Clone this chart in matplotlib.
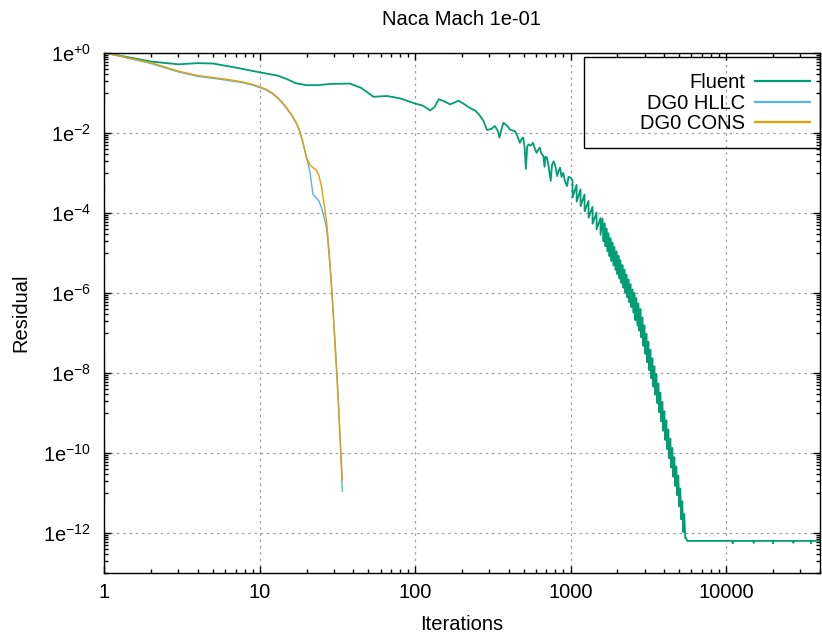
import numpy as np
import matplotlib
matplotlib.use('Agg')
import matplotlib.pyplot as plt
from matplotlib.patches import Rectangle
from matplotlib.ticker import FixedLocator, FixedFormatter, NullFormatter

plt.rcParams['font.family'] = ['Liberation Sans', 'DejaVu Sans']
plt.rcParams['mathtext.default'] = 'regular'

# ---------------- data ----------------
title = 'Naca Mach 1e-01'
x_label = 'Iterations'
y_label = 'Residual'
series_names = ['Fluent', 'DG0 HLLC', 'DG0 CONS']

x_tick_values = [1, 10, 100, 1000, 10000]
x_tick_labels = ['1', '10', '100', '1000', '10000']
y_tick_values = [1e0, 1e-2, 1e-4, 1e-6, 1e-8, 1e-10, 1e-12]
y_tick_labels = ['1e$^{+0}$', '1e$^{-2}$', '1e$^{-4}$', '1e$^{-6}$',
                 '1e$^{-8}$', '1e$^{-10}$', '1e$^{-12}$']

# Fluent residual (iteration, log10 residual)
fluent_iter = [1, 2, 3, 4, 5, 7, 10, 13, 15, 17, 20, 24, 28, 38, 45, 54, 66, 80,
               100, 112, 125, 133, 142, 155, 168, 190, 210, 225, 245, 262, 275,
               290, 310, 326, 340, 349, 360, 370, 390, 408, 438, 455, 472, 485,
               496, 506, 516, 526, 536, 555, 574, 590, 605, 620, 633, 650, 669,
               680, 690, 705, 720, 745, 760, 779, 800, 820, 838, 856, 875, 897,
               920, 950, 970, 1000,
               1030, 1032, 1093, 1095, 1159, 1161, 1230, 1232, 1305, 1307,
               1384, 1386, 1469, 1471, 1558, 1560,
               1605, 1629, 1653, 1678, 1702, 1727, 1754, 1780, 1806, 1833,
               1860, 1888, 1916, 1945, 1974, 2003, 2033, 2063, 2094, 2125,
               2157, 2189, 2221, 2254, 2288, 2322, 2357, 2392, 2427, 2463,
               2500, 2537, 2575, 2613, 2652, 2692, 2732, 2773, 2814, 2856,
               2898, 2941, 2985, 3030, 3075, 3121, 3167, 3214, 3262, 3311,
               3360, 3410, 3461, 3512, 3564, 3617, 3671, 3726, 3781, 3837,
               3895, 3953, 4012, 4072, 4132, 4194, 4256, 4319, 4384, 4449,
               4515, 4582, 4651, 4720, 4790, 4861, 4934, 5008, 5082, 5158,
               5234, 5312, 5391, 5471, 5553, 5620,
               11000, 11050, 11100, 15000, 15080, 15150, 20000, 20100, 20200,
               27000, 27150, 27300, 35000, 35200, 35400, 40000]
fluent_log10 = [0.0, -0.22, -0.29, -0.26, -0.27, -0.37, -0.49, -0.57, -0.66, -0.76,
                -0.81, -0.81, -0.78, -0.77, -0.88, -1.10, -1.08, -1.14,
                -1.27, -1.32, -1.44, -1.36, -1.16, -1.22, -1.29, -1.20, -1.30,
                -1.38, -1.45, -1.58, -1.70,
                -1.93, -1.90, -1.83, -1.95, -2.12, -1.90, -1.75, -1.82, -1.92,
                -1.96, -2.08, -2.25, -2.15,
                -2.12, -2.35, -2.90, -2.35, -2.29, -2.32, -2.25, -2.40, -2.50,
                -2.42, -2.37, -2.52, -2.58,
                -2.85, -2.60, -2.62, -2.80, -3.20, -2.80, -2.71, -2.85, -3.08,
                -2.95, -2.87, -3.10, -3.00,
                -3.20, -3.33, -3.10, -3.12,
                -3.19, -3.61, -3.30, -3.72, -3.41, -3.83, -3.54, -3.96,
                -3.70, -4.12, -3.85, -4.27, -3.99, -4.41, -4.13, -4.55,
                -4.14, -4.71, -4.26, -4.83, -4.39, -4.96, -4.51, -5.08,
                -4.63, -5.20, -4.74, -5.31, -4.85, -5.42, -4.96, -5.53,
                -5.07, -5.64, -5.18, -5.75, -5.30, -5.87, -5.42, -5.99,
                -5.54, -6.11, -5.66, -6.23, -5.78, -6.35, -5.91, -6.49,
                -6.00, -6.68, -6.13, -6.81, -6.26, -6.94, -6.40, -7.11,
                -6.61, -7.32, -6.81, -7.52, -7.02, -7.73, -7.22, -7.93,
                -7.42, -8.13, -7.63, -8.34, -7.83, -8.54, -8.03, -8.75,
                -8.26, -8.98, -8.49, -9.21, -8.72, -9.44, -8.95, -9.67,
                -9.18, -9.90, -9.41, -10.13, -9.64, -10.36, -9.87, -10.59,
                -10.10, -10.82, -10.33, -11.05, -10.56, -11.33, -10.88, -11.65,
                -11.20, -11.97, -11.52, -12.12, -12.12, -12.19,
                -12.19, -12.25, -12.19, -12.19, -12.24, -12.19, -12.19, -12.25,
                -12.19, -12.19, -12.24, -12.19, -12.19, -12.25, -12.19, -12.19]

# DG0 HLLC residual
hllc_iter = [1, 2, 3, 4, 5, 6, 7, 8, 9, 10, 11, 12, 13, 14, 15, 16, 17, 18, 19,
             20, 21, 22, 23, 24, 25, 26, 27, 28, 29, 30, 31, 32, 33, 34]
hllc_log10 = [0.0, -0.27, -0.48, -0.59, -0.64, -0.68, -0.72, -0.76, -0.81, -0.87,
              -0.93, -1.02, -1.13, -1.26, -1.41, -1.56, -1.73, -1.94, -2.27,
              -2.62, -2.95, -3.53, -3.62, -3.70, -3.88, -4.12, -4.41, -5.10,
              -5.85, -6.75, -7.65, -8.60, -9.75, -10.95]

# DG0 CONS residual
cons_iter = [1, 2, 3, 4, 5, 6, 7, 8, 9, 10, 11, 12, 13, 14, 15, 16, 17, 18, 19,
             20, 21, 22, 23, 24, 25, 26, 27, 28, 29, 30, 31, 32, 33, 34]
cons_log10 = [0.0, -0.25, -0.46, -0.57, -0.62, -0.66, -0.70, -0.74, -0.79, -0.85,
              -0.91, -1.00, -1.11, -1.24, -1.39, -1.54, -1.71, -1.92, -2.24,
              -2.62, -2.80, -2.87, -2.92, -3.05, -3.35, -3.80, -4.25, -5.00,
              -5.85, -6.80, -7.75, -8.70, -9.70, -10.67]

series_colors = ['#009e73', '#56b4e9', '#e69f00']

# ---------------- figure ----------------
fig = plt.figure(figsize=(8.22, 6.33), dpi=100)
ax = fig.add_axes([0.1269, 0.0943, 0.8701, 0.8224])

fs = 14.5
ax.plot(fluent_iter, 10.0 ** np.array(fluent_log10), color=series_colors[0],
        lw=1.3, label=series_names[0])
ax.plot(hllc_iter, 10.0 ** np.array(hllc_log10), color=series_colors[1],
        lw=1.0, label=series_names[1])
ax.plot(cons_iter, 10.0 ** np.array(cons_log10), color=series_colors[2],
        lw=1.0, label=series_names[2])

ax.set_xscale('log')
ax.set_yscale('log')
ax.set_xlim(1, 40000)
ax.set_ylim(1e-13, 1)

ax.xaxis.set_major_locator(FixedLocator(x_tick_values))
ax.xaxis.set_major_formatter(FixedFormatter(x_tick_labels))
x_minor = [d * k for d in [1, 10, 100, 1000, 10000] for k in range(2, 10)]
ax.xaxis.set_minor_locator(FixedLocator(x_minor))
ax.xaxis.set_minor_formatter(NullFormatter())

ax.yaxis.set_major_locator(FixedLocator(y_tick_values))
ax.yaxis.set_major_formatter(FixedFormatter(y_tick_labels))
y_minor = [m * k / 10 for m in y_tick_values for k in range(1, 10)]
ax.yaxis.set_minor_locator(FixedLocator(y_minor))
ax.yaxis.set_minor_formatter(NullFormatter())

ax.tick_params(which='both', direction='in', top=True, right=True,
               labelsize=fs, width=1.0, color='black')
ax.tick_params(which='major', length=5)
ax.tick_params(which='minor', length=3)
ax.tick_params(axis='x', which='major', pad=7)
ax.tick_params(axis='y', which='major', pad=9.5)

for s in ax.spines.values():
    s.set_linewidth(1.0)
    s.set_color('black')

ax.grid(which='major', color='#a0a0a0', linestyle=(0, (2, 3)), linewidth=0.9)
ax.set_axisbelow(True)

ax.set_title(title, fontsize=fs, pad=20)
ax.set_xlabel(x_label, fontsize=fs)
ax.set_ylabel(y_label, fontsize=fs)
ax.xaxis.set_label_coords(0.5, -0.080)
ax.yaxis.set_label_coords(-0.103, 0.5)

leg = ax.legend(loc='upper right', bbox_to_anchor=(0.9867, 0.9604),
                frameon=False, markerfirst=False, fontsize=fs,
                borderpad=0, borderaxespad=0, handlelength=2.74,
                handletextpad=0.5, labelspacing=0.07)
for line in leg.get_lines():
    line.set_linewidth(1.6)

ax.add_patch(Rectangle((0.6707, 0.8164), 1.0 - 0.6707, 0.9912 - 0.8164,
                       transform=ax.transAxes, fill=False, edgecolor='black',
                       linewidth=1.0, clip_on=False, zorder=5))

fig.savefig('out.png', dpi=100)
